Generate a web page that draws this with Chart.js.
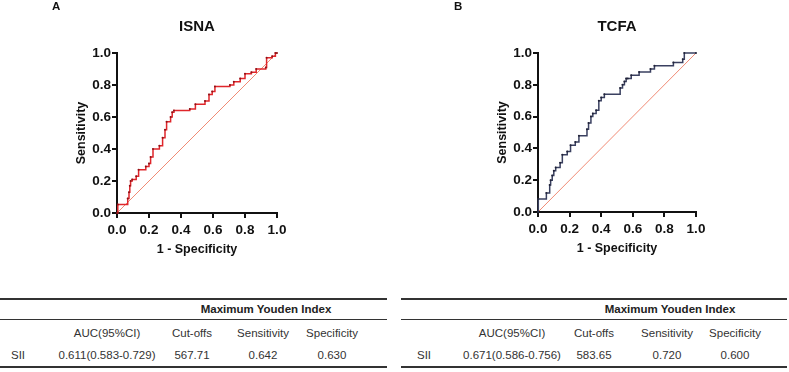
<!DOCTYPE html>
<html>
<head>
<meta charset="utf-8">
<script src="https://cdn.jsdelivr.net/npm/chart.js@4"></script>
<style>
  body { margin: 0; background: #fff; width: 789px; height: 372px; position: relative; overflow: hidden;
         font-family: "Liberation Sans", Arial, sans-serif; }
  canvas { position: absolute; top: 0; }
  .letter { position: absolute; top: 0px; font-weight: bold; font-size: 11.5px; color: #111; }
  .tbl { position: absolute; top: 298px; height: 72px; color: #333; font-size: 11.5px; }
  .rule { position: absolute; left: 0; right: 0; background: #333; }
  .cell { position: absolute; transform: translateX(-50%); white-space: nowrap; }
</style>
</head>
<body>
<canvas id="chartA" width="395" height="262" style="left:0"></canvas>
<canvas id="chartB" width="394" height="262" style="left:395px"></canvas>
<div class="letter" style="left:52px">A</div>
<div class="letter" style="left:454px">B</div>
<div class="tbl" id="tableA" style="left:0; width:387px"></div>
<div class="tbl" id="tableB" style="left:401px; width:386px"></div>
<script>
// ROC steps: false positive rate where sensitivity jumps, and the new sensitivity
const isnaFpr = [0, 0.005, 0.067, 0.075, 0.08, 0.085, 0.095, 0.12, 0.135, 0.18, 0.2, 0.21, 0.225, 0.265, 0.285, 0.3, 0.31, 0.335, 0.345, 0.356, 0.455, 0.49, 0.55, 0.575, 0.595, 0.612, 0.706, 0.73, 0.77, 0.8, 0.84, 0.87, 0.93, 0.935, 0.97, 0.99, 1.0];
const isnaTpr = [0, 0.053, 0.09, 0.13, 0.17, 0.2, 0.21, 0.23, 0.27, 0.29, 0.31, 0.35, 0.4, 0.42, 0.47, 0.52, 0.57, 0.6, 0.63, 0.64, 0.65, 0.68, 0.7, 0.74, 0.76, 0.79, 0.8, 0.82, 0.84, 0.87, 0.88, 0.9, 0.91, 0.97, 0.98, 1.0, 1.0];

const tcfaFpr = [0, 0.002, 0.053, 0.074, 0.08, 0.09, 0.1, 0.112, 0.14, 0.154, 0.185, 0.206, 0.236, 0.259, 0.31, 0.32, 0.335, 0.347, 0.368, 0.385, 0.4, 0.42, 0.52, 0.535, 0.547, 0.558, 0.568, 0.59, 0.64, 0.712, 0.737, 0.857, 0.916, 0.926, 1.0];
const tcfaTpr = [0, 0.082, 0.12, 0.17, 0.2, 0.23, 0.26, 0.28, 0.31, 0.36, 0.38, 0.42, 0.44, 0.48, 0.52, 0.56, 0.6, 0.62, 0.64, 0.7, 0.72, 0.74, 0.78, 0.8, 0.82, 0.84, 0.84, 0.86, 0.88, 0.9, 0.92, 0.94, 0.96, 1.0, 1.0];

const chanceLine = [0, 1];
const axisTicks = [0, 0.2, 0.4, 0.6, 0.8, 1.0];

const tableHeads = ['AUC(95%CI)', 'Cut-offs', 'Sensitivity', 'Specificity'];
const rowLabel = 'SII';
const isnaStats = ['0.611(0.583-0.729)', '567.71', '0.642', '0.630'];
const tcfaStats = ['0.671(0.586-0.756)', '583.65', '0.720', '0.600'];

function toPoints(xs, ys) {
  return xs.map((x, i) => ({ x: x, y: ys[i] }));
}

function makeRoc(id, title, fpr, tpr, color, dotColor, pad) {
  const ctx = document.getElementById(id).getContext('2d');
  const tickFont = { family: 'Liberation Sans, Arial', size: 13.5, weight: 'bold' };
  return new Chart(ctx, {
    type: 'line',
    data: {
      datasets: [{
        data: toPoints(fpr, tpr),
        stepped: 'before',
        borderColor: color,
        borderWidth: 1.5,
        pointRadius: 1,
        pointBackgroundColor: dotColor,
        pointBorderWidth: 0,
        clip: 6
      }, {
        data: toPoints(chanceLine, chanceLine),
        borderColor: '#f08a74',
        borderWidth: 1,
        pointRadius: 0,
        clip: 6
      }]
    },
    options: {
      responsive: false,
      animation: false,
      layout: { padding: pad },
      plugins: {
        legend: { display: false },
        tooltip: { enabled: false },
        title: {
          display: true,
          text: title,
          fullSize: false,
          color: '#111',
          font: { family: 'Liberation Sans, Arial', size: 15, weight: 'bold' },
          padding: { top: 18, bottom: 17 }
        }
      },
      scales: {
        x: {
          type: 'linear', min: 0, max: 1,
          afterBuildTicks: axis => { axis.ticks = axisTicks.map(v => ({ value: v })); },
          afterFit: axis => { axis.height = 48; },
          grid: { drawOnChartArea: false, color: '#111', lineWidth: 2, tickLength: 5 },
          border: { color: '#111', width: 2 },
          ticks: { color: '#111', font: tickFont, padding: 4, maxRotation: 0,
                   callback: v => v.toFixed(1) },
          title: { display: true, text: '1 - Specificity', color: '#111', padding: { top: 6 },
                   font: { family: 'Liberation Sans, Arial', size: 12.5, weight: 'bold' } }
        },
        y: {
          type: 'linear', min: 0, max: 1,
          afterBuildTicks: axis => { axis.ticks = axisTicks.map(v => ({ value: v })); },
          afterFit: axis => { axis.width = 57; },
          grid: { drawOnChartArea: false, color: '#111', lineWidth: 2, tickLength: 5 },
          border: { color: '#111', width: 2 },
          ticks: { color: '#111', font: tickFont, padding: 1,
                   callback: v => v.toFixed(1) },
          title: { display: true, text: 'Sensitivity', color: '#111', padding: { top: 14 },
                   font: { family: 'Liberation Sans, Arial', size: 12.5, weight: 'bold' } }
        }
      }
    }
  });
}

makeRoc('chartA', 'ISNA', isnaFpr, isnaTpr, '#e0262b', '#8c1418', { left: 60, right: 118, top: 0, bottom: 1 });
makeRoc('chartB', 'TCFA', tcfaFpr, tcfaTpr, '#3a4060', '#222438', { left: 86, right: 93, top: 0, bottom: 2 });

// table below each chart
function buildTable(el, stats, cols, labelX) {
  let html = '';
  html += '<div class="rule" style="top:0; height:1.5px"></div>';
  html += '<div class="cell" style="left:' + (cols[2] + 3) + 'px; top:5px; font-weight:bold; color:#222">Maximum Youden Index</div>';
  html += '<div class="rule" style="top:21px; height:1px"></div>';
  tableHeads.forEach((h, i) => {
    html += '<div class="cell" style="left:' + cols[i] + 'px; top:29px">' + h + '</div>';
  });
  html += '<div class="cell" style="left:' + labelX + 'px; top:51px">' + rowLabel + '</div>';
  stats.forEach((s, i) => {
    html += '<div class="cell" style="left:' + cols[i] + 'px; top:51px">' + s + '</div>';
  });
  html += '<div class="rule" style="top:68px; height:2px"></div>';
  el.innerHTML = html;
}

buildTable(document.getElementById('tableA'), isnaStats, [107, 192, 263, 332], 18);
buildTable(document.getElementById('tableB'), tcfaStats, [111, 193, 266, 334], 23);
</script>
</body>
</html>
